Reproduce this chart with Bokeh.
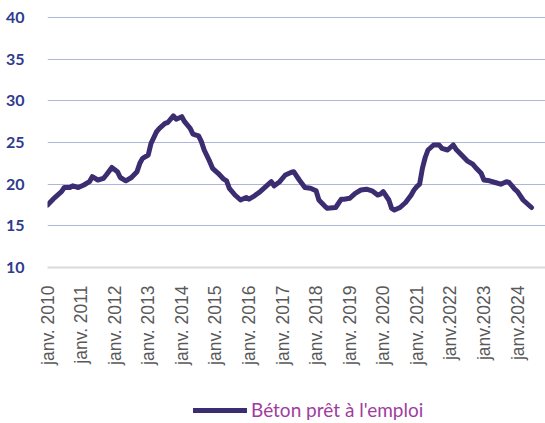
import math
from bokeh.plotting import figure
from bokeh.layouts import column
from bokeh.models import Range1d, FixedTicker, Legend, LegendItem
from bokeh.embed import file_html
from bokeh.resources import INLINE

# Monthly readings (YYYY-MM) of the series
months = ["2010-01", "2010-03", "2010-04", "2010-06", "2010-07", "2010-09", "2010-10", "2010-12",
          "2011-02", "2011-04", "2011-05", "2011-07", "2011-09", "2011-10", "2011-12",
          "2012-02", "2012-03", "2012-05", "2012-07", "2012-09", "2012-10", "2012-11",
          "2013-01", "2013-02", "2013-04", "2013-05", "2013-07", "2013-08", "2013-10", "2013-11",
          "2014-01", "2014-02", "2014-04", "2014-05", "2014-07", "2014-08", "2014-09", "2014-11", "2014-12",
          "2015-02", "2015-04", "2015-05", "2015-06", "2015-08", "2015-10", "2015-12",
          "2016-01", "2016-03", "2016-05", "2016-07", "2016-09", "2016-10", "2016-12",
          "2017-02", "2017-04", "2017-05", "2017-07", "2017-09", "2017-11",
          "2018-01", "2018-02", "2018-04", "2018-05", "2018-08", "2018-10", "2018-11",
          "2019-01", "2019-03", "2019-05", "2019-07", "2019-09", "2019-11", "2019-12",
          "2020-01", "2020-03", "2020-04", "2020-05", "2020-07", "2020-09", "2020-11", "2020-12",
          "2021-01", "2021-02", "2021-03", "2021-04", "2021-05", "2021-07", "2021-09", "2021-10", "2021-12",
          "2022-02", "2022-03", "2022-05", "2022-07", "2022-09", "2022-10", "2022-12",
          "2023-01", "2023-03", "2023-05", "2023-07", "2023-09", "2023-10", "2023-12",
          "2024-01", "2024-03", "2024-04", "2024-06"]
values = [17.5, 18.2, 18.5, 19.1, 19.6, 19.6, 19.8, 19.6,
          19.9, 20.3, 20.9, 20.5, 20.7, 21.1, 22.0,
          21.5, 20.8, 20.4, 20.8, 21.5, 22.5, 23.1,
          23.5, 24.9, 26.3, 26.7, 27.3, 27.4, 28.2, 27.8,
          28.1, 27.5, 26.7, 26.0, 25.8, 25.1, 24.1, 22.7, 21.9,
          21.3, 20.6, 20.4, 19.5, 18.7, 18.1, 18.4,
          18.2, 18.6, 19.1, 19.7, 20.3, 19.8, 20.3,
          21.1, 21.4, 21.5, 20.5, 19.6, 19.5,
          19.2, 18.1, 17.4, 17.1, 17.2, 18.2, 18.2,
          18.3, 18.9, 19.3, 19.4, 19.2, 18.7, 18.8,
          19.1, 18.1, 17.1, 16.9, 17.2, 17.8, 18.7, 19.3,
          19.7, 20.0, 21.9, 23.2, 24.1, 24.7, 24.7, 24.3, 24.1,
          24.7, 24.2, 23.5, 22.8, 22.4, 22.0, 21.3,
          20.5, 20.4, 20.2, 20.0, 20.3, 20.2, 19.4,
          19.1, 18.1, 17.8, 17.2]
series_name = "Béton prêt à l'emploi"

tick_years = list(range(2010, 2025))
tick_labels = ["janv. 2010", "janv. 2011", "janv. 2012", "janv. 2013", "janv. 2014",
               "janv. 2015", "janv. 2016", "janv. 2017", "janv. 2018", "janv. 2019",
               "janv. 2020", "janv. 2021", "janv.2022", "janv.2023", "janv.2024"]
y_ticks = [10, 15, 20, 25, 30, 35, 40]

LINE_COLOR = "#3c2d70"


def month_index(s):
    y, m = s.split("-")
    return (int(y) - 2010) * 12 + int(m) - 1


xs = [month_index(s) for s in months]
tick_pos = [(y - 2010) * 12 for y in tick_years]

W, H = 545, 390
p = figure(width=W, height=H, output_backend="svg", toolbar_location=None,
           x_range=Range1d(0, 178), y_range=Range1d(10, 40.24),
           min_border_left=47, min_border_right=0, min_border_top=15,
           min_border_bottom=H - 267)
p.outline_line_color = None
p.background_fill_color = "white"
p.border_fill_color = "white"

# grid
p.xgrid.visible = False
p.ygrid.ticker = FixedTicker(ticks=y_ticks)
p.ygrid.grid_line_color = "#aeb6dc"
p.ygrid.grid_line_width = 1

# y axis
p.yaxis.ticker = FixedTicker(ticks=y_ticks)
p.yaxis.axis_line_color = None
p.yaxis.major_tick_line_color = None
p.yaxis.minor_tick_line_color = None
p.yaxis.major_label_standoff = 17
p.yaxis.major_label_text_font = "Lato"
p.yaxis.major_label_text_font_style = "bold"
p.yaxis.major_label_text_font_size = "16px"
p.yaxis.major_label_text_color = "#2e3b8e"

# x axis
p.xaxis.ticker = FixedTicker(ticks=tick_pos)
p.xaxis.major_label_overrides = {t: l for t, l in zip(tick_pos, tick_labels)}
p.xaxis.major_label_orientation = math.pi / 2
p.xaxis.axis_line_color = "#d9d9d9"
p.xaxis.axis_line_width = 2
p.xaxis.major_tick_line_color = None
p.xaxis.minor_tick_line_color = None
p.xaxis.major_label_standoff = 12
p.xaxis.major_label_text_font = "Liberation Sans"
p.xaxis.major_label_text_font_size = "17.5px"
p.xaxis.major_label_text_color = "#595959"

p.line(xs, values, line_color=LINE_COLOR, line_width=5,
       line_join="round", line_cap="round")

# legend strip below the chart (its swatch line lies outside the strip's visible range)
lp = figure(width=W, height=32, output_backend="svg", toolbar_location=None,
            x_range=Range1d(0, 1), y_range=Range1d(0, 1),
            x_axis_location=None, y_axis_location=None,
            min_border_left=0, min_border_right=0, min_border_top=0, min_border_bottom=0)
lp.outline_line_color = None
lp.grid.visible = False
lr = lp.line([5, 6], [5, 6], line_color=LINE_COLOR, line_width=5, line_cap="round")
legend = Legend(items=[LegendItem(label=series_name, renderers=[lr])],
                location=(146, 1), orientation="horizontal",
                padding=0, margin=0, border_line_color=None, background_fill_alpha=0,
                glyph_width=54, glyph_height=20, label_height=20, label_standoff=4,
                label_text_font="Lato", label_text_font_size="19px",
                label_text_color="#a03ca0")
lp.add_layout(legend, "center")

layout = column(p, lp, spacing=0)
open("out.html", "w").write(file_html(layout, INLINE))
